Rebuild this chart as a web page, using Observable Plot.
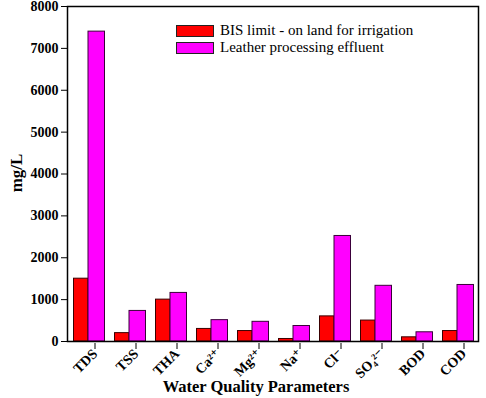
<!DOCTYPE html>
<html>
<head>
<meta charset="utf-8">
<script src="https://cdn.jsdelivr.net/npm/d3@7"></script>
<script src="https://cdn.jsdelivr.net/npm/@observablehq/plot@0.6"></script>
<style>
  html, body { margin: 0; padding: 0; background: #fff; }
  #wrap { position: relative; width: 486px; height: 398px; font-family: "Liberation Serif", "Times New Roman", "DejaVu Serif", serif; }
  #wrap svg { position: absolute; left: 0; top: 0; font-family: "Liberation Serif", "Times New Roman", "DejaVu Serif", serif !important; }
  #wrap svg text { font-family: "Liberation Serif", "Times New Roman", "DejaVu Serif", serif; }
  .ytitle { position: absolute; left: 17px; top: 173px; transform: translate(-50%, -50%) rotate(-90deg); font-weight: bold; font-size: 17px; white-space: nowrap; }
  .xtitle { position: absolute; left: 256px; top: 377px; transform: translateX(-50%); font-weight: bold; font-size: 16.5px; white-space: nowrap; }
  .legend { position: absolute; left: 176px; top: 22px; font-size: 15px; line-height: 17px; }
  .legend .row { display: flex; align-items: center; height: 17px; }
  .legend .sw { width: 38px; height: 12px; border: 1px solid #222; margin-right: 6px; box-sizing: border-box; }
</style>
</head>
<body>
<div id="wrap"></div>
<script>
const categories = ["TDS", "TSS", "THA", "Ca²⁺", "Mg²⁺", "Na⁺", "Cl⁻", "SO₄²⁻", "BOD", "COD"];
const bisLimit = [1500, 200, 1000, 300, 250, 60, 600, 500, 100, 250];
const leatherEffluent = [7400, 730, 1160, 510, 470, 370, 2520, 1330, 220, 1350];
const seriesNames = ["BIS limit - on land for irrigation", "Leather processing effluent"];
const seriesColors = ["#ff0000", "#ff00ff"];
const yTicks = [0, 1000, 2000, 3000, 4000, 5000, 6000, 7000, 8000];

const redData = categories.map((c, i) => ({cat: c, v: bisLimit[i]}));
const magData = categories.map((c, i) => ({cat: c, v: leatherEffluent[i]}));
const serif = "'Liberation Serif', 'Times New Roman', 'DejaVu Serif', serif";

const chart = Plot.plot({
  width: 486,
  height: 398,
  marginLeft: 67,
  marginRight: 8,
  marginTop: 6,
  marginBottom: 57,
  style: {fontFamily: serif, background: "transparent", overflow: "visible"},
  x: {domain: categories, type: "band", padding: 0, axis: null},
  y: {domain: [0, 8000], axis: null},
  marks: [
    Plot.barY(redData, {x: "cat", y: "v", fill: seriesColors[0], stroke: "#3a0000", strokeWidth: 1, insetLeft: 5.5, insetRight: 21}),
    Plot.barY(magData, {x: "cat", y: "v", fill: seriesColors[1], stroke: "#3a003a", strokeWidth: 1, insetLeft: 20, insetRight: 4.5}),
    Plot.axisY({ticks: yTicks, tickFormat: d => String(d), tickSize: 6, tickPadding: 3, fontSize: 14, fontWeight: "bold", fontFamily: serif, label: null, stroke: "#000", color: "#000"}),
    Plot.axisX({tickSize: 6, tickPadding: 2, tickRotate: -45, fontSize: 14, fontWeight: "bold", fontFamily: serif, label: null, dx: 6, dy: 2, color: "#000"}),
    Plot.frame({stroke: "#000", strokeWidth: 1.5})
  ]
});

const wrap = document.getElementById("wrap");
wrap.appendChild(chart);

const yt = document.createElement("div");
yt.className = "ytitle"; yt.textContent = "mg/L";
wrap.appendChild(yt);
const xt = document.createElement("div");
xt.className = "xtitle"; xt.textContent = "Water Quality Parameters";
wrap.appendChild(xt);

const lg = document.createElement("div");
lg.className = "legend";
seriesNames.forEach((n, i) => {
  const row = document.createElement("div"); row.className = "row";
  const sw = document.createElement("div"); sw.className = "sw"; sw.style.background = seriesColors[i];
  const t = document.createElement("span"); t.textContent = n;
  row.appendChild(sw); row.appendChild(t); lg.appendChild(row);
});
wrap.appendChild(lg);
</script>
</body>
</html>
